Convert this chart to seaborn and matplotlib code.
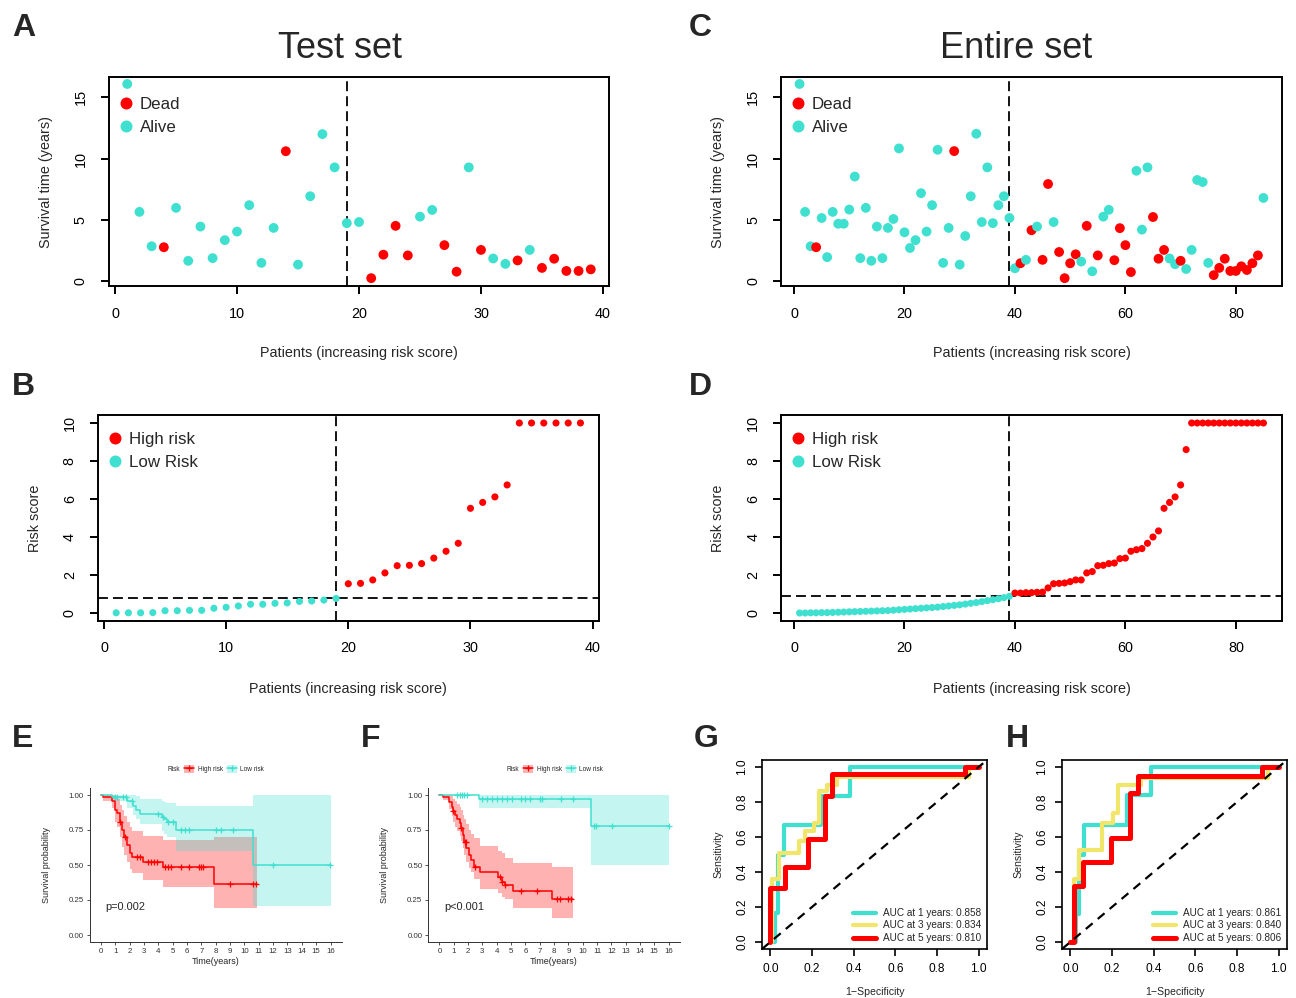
import numpy as np
import pandas as pd
import matplotlib
matplotlib.use("Agg")
import matplotlib.pyplot as plt
from matplotlib.lines import Line2D
from matplotlib.patches import Patch
import seaborn as sns

sns.set_theme(style="ticks")
plt.rcParams['font.family'] = ['Liberation Sans', 'DejaVu Sans']

RED = "#FF0000"
TEAL = "#40E0D0"
YELLOW = "#F2E66A"

# ---------------- data: test set ----------------
test_time = [16.1, 5.64, 2.83, 2.75, 5.97, 1.64, 4.44, 1.86, 3.33, 4.03,
             6.19, 1.47, 4.33, 10.6, 1.33, 6.92, 12.0, 9.28, 4.72, 4.81,
             0.22, 2.14, 4.5, 2.08, 5.25, 5.8, 2.92, 0.75, 9.28, 2.53,
             1.83, 1.39, 1.67, 2.53, 1.06, 1.81, 0.81, 0.81, 0.94]
test_dead = [0, 0, 0, 1, 0, 0, 0, 0, 0, 0,
             0, 0, 0, 1, 0, 0, 0, 0, 0, 0,
             1, 1, 1, 1, 0, 0, 1, 1, 0, 1,
             0, 0, 1, 0, 1, 1, 1, 1, 1]
test_risk = [0.01, 0.01, 0.01, 0.02, 0.12, 0.12, 0.14, 0.14, 0.25, 0.30,
             0.37, 0.46, 0.46, 0.51, 0.53, 0.61, 0.63, 0.68, 0.77,
             1.54, 1.56, 1.74, 2.11, 2.49, 2.51, 2.60, 2.89, 3.25, 3.67,
             5.51, 5.82, 6.11, 6.74, 10, 10, 10, 10, 10, 10]
test_nlow = 19
test_cut = 0.77

# ---------------- data: entire set ----------------
entire_time = [16.1, 5.64, 2.83, 2.75, 5.14, 1.94, 5.64, 4.67, 4.67, 5.83,
               8.53, 1.86, 5.97, 1.64, 4.44, 1.86, 4.33, 5.06, 10.83, 3.97,
               2.69, 3.33, 7.17, 4.03, 6.19, 10.72, 1.47, 4.33, 10.61, 1.33,
               3.67, 6.92, 12.03, 4.81, 9.28, 4.72, 6.19, 6.92, 5.14, 1.03,
               1.44, 1.72, 4.14, 4.44, 1.72, 7.92, 4.81, 2.36, 0.22, 1.44,
               2.17, 1.58, 4.5, 0.78, 2.08, 5.25, 5.81, 1.69, 4.31, 2.92,
               0.72, 9.0, 4.19, 9.28, 5.22, 1.81, 2.53, 1.83, 1.36, 1.64,
               0.97, 2.53, 8.25, 8.08, 1.47, 0.47, 1.06, 1.81, 0.81, 0.81,
               1.19, 0.89, 1.44, 2.08, 6.78]
entire_dead = [0, 0, 0, 1, 0, 0, 0, 0, 0, 0,
               0, 0, 0, 0, 0, 0, 0, 0, 0, 0,
               0, 0, 0, 0, 0, 0, 0, 0, 1, 0,
               0, 0, 0, 0, 0, 0, 0, 0, 0, 0,
               1, 0, 1, 0, 1, 1, 0, 1, 1, 1,
               1, 0, 1, 0, 1, 0, 0, 1, 1, 1,
               1, 0, 0, 0, 1, 1, 1, 0, 0, 1,
               0, 0, 0, 0, 0, 1, 1, 1, 1, 1,
               1, 1, 1, 1, 0]
entire_risk = [0.00, 0.00, 0.01, 0.01, 0.02, 0.02, 0.03, 0.04, 0.05, 0.06,
               0.07, 0.08, 0.09, 0.10, 0.11, 0.12, 0.13, 0.15, 0.17, 0.19,
               0.21, 0.23, 0.25, 0.27, 0.29, 0.31, 0.34, 0.37, 0.40, 0.43,
               0.47, 0.51, 0.55, 0.60, 0.65, 0.70, 0.75, 0.81, 0.88,
               1.05, 1.05, 1.07, 1.07, 1.09, 1.10, 1.32, 1.54, 1.56, 1.58,
               1.65, 1.74, 1.74, 2.11, 2.18, 2.49, 2.51, 2.60, 2.63, 2.86,
               2.89, 3.25, 3.33, 3.39, 3.67, 4.00, 4.32, 5.51, 5.82, 6.11,
               6.74, 8.60, 10, 10, 10, 10, 10, 10, 10, 10, 10, 10, 10, 10, 10, 10]
entire_nlow = 39
entire_cut = 0.88

# ---------------- data: Kaplan-Meier (E test, F entire) ----------------
e_hi_t = [0, 0.15, 0.8, 0.95, 1.1, 1.3, 1.45, 1.6, 1.8, 2.0, 2.15, 2.95, 4.35, 7.85, 10.85]
e_hi_s = [1.0, 0.985, 0.955, 0.895, 0.87, 0.81, 0.75, 0.70, 0.645, 0.585, 0.56, 0.525, 0.485, 0.365, 0.365]
e_hi_up = [1.0, 1.0, 1.0, 0.99, 0.97, 0.93, 0.89, 0.85, 0.81, 0.77, 0.74, 0.71, 0.68, 0.70, 0.70]
e_hi_lo = [1.0, 0.955, 0.905, 0.81, 0.77, 0.70, 0.63, 0.575, 0.52, 0.47, 0.445, 0.39, 0.345, 0.19, 0.19]
e_hi_cens = [1.3, 1.7, 2.5, 2.7, 3.3, 3.5, 3.7, 3.9, 4.45, 4.7, 4.85, 5.6, 6.15, 6.8, 6.95, 7.1, 9.0, 10.6, 10.8]

e_lo_t = [0, 0.75, 1.8, 2.2, 2.45, 2.75, 4.25, 4.4, 4.6, 5.2, 10.6, 16.0]
e_lo_s = [1.0, 0.985, 0.955, 0.92, 0.895, 0.865, 0.845, 0.83, 0.81, 0.75, 0.50, 0.50]
e_lo_up = [1.0, 1.0, 1.0, 1.0, 0.99, 0.97, 0.96, 0.95, 0.94, 0.92, 1.0, 1.0]
e_lo_lo = [1.0, 0.955, 0.905, 0.86, 0.83, 0.79, 0.74, 0.72, 0.70, 0.60, 0.21, 0.21]
e_lo_cens = [0.98, 1.1, 1.55, 1.75, 2.15, 4.0, 4.35, 4.7, 5.05, 5.6, 5.85, 6.15, 8.05, 8.35, 9.2, 12.0, 15.95]

f_hi_t = [0, 0.23, 0.7, 0.86, 0.98, 1.1, 1.2, 1.4, 1.5, 1.63, 1.72, 1.86, 2.03, 2.19, 2.38, 2.84,
          4.12, 4.35, 4.59, 5.17, 7.85, 9.3]
f_hi_s = [1.0, 0.988, 0.952, 0.917, 0.888, 0.857, 0.826, 0.80, 0.762, 0.714, 0.667, 0.62, 0.571, 0.536,
          0.488, 0.452, 0.417, 0.381, 0.357, 0.317, 0.255, 0.255]
f_hi_up = [1.0, 1.0, 1.0, 0.99, 0.975, 0.955, 0.935, 0.915, 0.89, 0.86, 0.83, 0.79, 0.75, 0.72,
           0.69, 0.636, 0.60, 0.583, 0.548, 0.517, 0.488, 0.488]
f_hi_lo = [1.0, 0.965, 0.90, 0.85, 0.81, 0.77, 0.74, 0.71, 0.67, 0.62, 0.57, 0.52, 0.48, 0.45,
           0.40, 0.33, 0.30, 0.27, 0.255, 0.19, 0.125, 0.125]
f_hi_cens = [0.98, 1.5, 1.75, 1.85, 2.5, 4.2, 4.4, 4.6, 5.7, 6.8, 8.2, 8.4, 9.0, 9.2]

f_lo_t = [0, 2.75, 10.6, 16.0]
f_lo_s = [1.0, 0.97, 0.78, 0.78]
f_lo_up = [1.0, 1.0, 1.0, 1.0]
f_lo_lo = [1.0, 0.91, 0.50, 0.50]
f_lo_cens = [1.2, 1.4, 1.56, 1.72, 1.91, 2.96, 3.31, 3.66, 4.0, 4.35, 4.7, 5.05, 5.7, 5.94,
             6.29, 7.0, 7.16, 8.48, 9.3, 10.76, 10.9, 12.04, 16.0]

# ---------------- data: time-dependent ROC (G test, H entire) ----------------
g_fpr_1 = [0, 0.024, 0.037, 0.066, 0.245, 0.382, 1.0]
g_tpr_1 = [0, 0.167, 0.5, 0.667, 0.833, 1.0, 1.0]
g_fpr_3 = [0, 0.008, 0.04, 0.136, 0.165, 0.21, 0.233, 0.274, 0.318, 0.955, 1.0]
g_tpr_3 = [0, 0.358, 0.507, 0.58, 0.635, 0.68, 0.863, 0.9, 0.945, 1.0, 1.0]
g_fpr_5 = [0, 0.0, 0.072, 0.181, 0.262, 0.294, 0.933, 1.0]
g_tpr_5 = [0, 0.307, 0.427, 0.588, 0.835, 0.96, 1.0, 1.0]
g_auc = ["0.858", "0.834", "0.810"]

h_fpr_1 = [0, 0.029, 0.04, 0.066, 0.27, 0.387, 1.0]
h_tpr_1 = [0, 0.16, 0.5, 0.667, 0.84, 1.0, 1.0]
h_fpr_3 = [0, 0.018, 0.04, 0.15, 0.205, 0.23, 0.34, 0.95, 1.0]
h_tpr_3 = [0, 0.36, 0.526, 0.68, 0.737, 0.897, 0.94, 1.0, 1.0]
h_fpr_5 = [0, 0.018, 0.061, 0.194, 0.286, 0.326, 0.92, 1.0]
h_tpr_5 = [0, 0.32, 0.46, 0.595, 0.85, 0.95, 1.0, 1.0]
h_auc = ["0.861", "0.840", "0.806"]

# ---------------- figure ----------------
W, H = 1296, 998
fig = plt.figure(figsize=(W / 100, H / 100), dpi=100)


def add_box(left, top, right, bottom):
    return fig.add_axes([left / W, 1 - bottom / H, (right - left) / W, (bottom - top) / H])


def r_style(ax):
    ax.grid(False)
    for sp in ax.spines.values():
        sp.set_visible(True)
        sp.set_color("black")
        sp.set_linewidth(1.4)
    ax.tick_params(direction="out", length=6, width=1.4, color="black",
                   labelsize=10.4, pad=9, labelcolor="black")
    ax.tick_params(axis="y", labelrotation=90)
    for lbl in ax.get_yticklabels():
        lbl.set_va("center")


def dot_legend(ax, labels, colors, anchor):
    handles = [Line2D([], [], ls="", marker="o", ms=7.6, mfc=c, mec=c) for c in colors]
    ax.legend(handles, labels, loc="upper left", bbox_to_anchor=anchor, frameon=False,
              fontsize=12.2, handlelength=0.6, handletextpad=0.5, labelspacing=0.5,
              borderpad=0, borderaxespad=0)


def survival_panel(ax, times, dead, nlow, xlim, xticks):
    df = pd.DataFrame({"patient": np.arange(1, len(times) + 1), "time": times,
                       "status": ["Dead" if d else "Alive" for d in dead]})
    sns.scatterplot(data=df, x="patient", y="time", hue="status",
                    palette={"Dead": RED, "Alive": TEAL}, s=50, linewidth=0,
                    legend=False, ax=ax, zorder=3)
    ax.axvline(nlow, color="black", ls=(0, (5.5, 2.8)), lw=1.3)
    ax.set_xlim(*xlim)
    ax.set_ylim(-0.42, 16.67)
    ax.set_xticks(xticks)
    ax.set_yticks([0, 5, 10, 15])
    ax.set_xlabel("Patients (increasing risk score)", fontsize=10.4, labelpad=18)
    ax.set_ylabel("Survival time (years)", fontsize=10.4, labelpad=15)
    r_style(ax)
    dot_legend(ax, ["Dead", "Alive"], [RED, TEAL], (0.0246, 0.905))


def risk_panel(ax, risk, nlow, cut, xlim, xticks):
    n = len(risk)
    df = pd.DataFrame({"patient": np.arange(1, n + 1), "risk": risk,
                       "group": ["Low"] * nlow + ["High"] * (n - nlow)})
    sns.scatterplot(data=df, x="patient", y="risk", hue="group",
                    palette={"High": RED, "Low": TEAL}, s=26, linewidth=0,
                    legend=False, ax=ax, zorder=3)
    ax.axvline(nlow, color="black", ls=(0, (5.5, 2.8)), lw=1.3)
    ax.axhline(cut, color="black", ls=(0, (5.5, 2.8)), lw=1.3)
    ax.set_xlim(*xlim)
    ax.set_ylim(-0.4, 10.4)
    ax.set_xticks(xticks)
    ax.set_yticks([0, 2, 4, 6, 8, 10])
    ax.set_xlabel("Patients (increasing risk score)", fontsize=10.4, labelpad=19)
    ax.set_ylabel("Risk score", fontsize=10.4, labelpad=15)
    r_style(ax)
    dot_legend(ax, ["High risk", "Low Risk"], [RED, TEAL], (0.0247, 0.92))


def km_panel(ax, groups, ptext, legend_cx):
    for t, s, lo, up, cens, color in groups:
        ax.fill_between(t, lo, up, step="post", color=color, alpha=0.3, lw=0)
        sns.lineplot(x=t, y=s, drawstyle="steps-post", estimator=None, color=color,
                     lw=1.1, ax=ax)
        idx = np.searchsorted(t, cens, side="right") - 1
        ax.plot(cens, np.array(s)[idx], ls="", marker="+", ms=4, mew=0.9, color=color)
    ax.set_xlim(-0.8, 16.8)
    ax.set_ylim(-0.05, 1.05)
    ax.set_xticks(range(0, 17))
    ax.set_yticks([0, 0.25, 0.5, 0.75, 1.0])
    ax.set_yticklabels(["0.00", "0.25", "0.50", "0.75", "1.00"])
    ax.grid(False)
    sns.despine(ax=ax)
    for side in ["left", "bottom"]:
        ax.spines[side].set_color("#333333")
        ax.spines[side].set_linewidth(0.7)
    ax.tick_params(direction="out", length=2.5, width=0.6, color="#333333",
                   labelsize=5.7, pad=1.5, labelcolor="#333333")
    ax.set_xlabel("Time(years)", fontsize=6.5, labelpad=1.5)
    ax.set_ylabel("Survival probability", fontsize=6.5, labelpad=13)
    ax.text(0.33, 0.2, ptext, fontsize=7.9, ha="left", va="center")
    handles = [Line2D([], [], ls="", marker="")]
    for color in [RED, TEAL]:
        handles.append((Patch(fc=color, alpha=0.3, lw=0),
                        Line2D([], [], color=color, lw=1.1, marker="+", ms=4, mew=0.9)))
    fig.legend(handles, ["Risk", "High risk", "Low risk"], ncol=3, loc="center",
               bbox_to_anchor=(legend_cx / W, 1 - 769 / H), frameon=False, fontsize=4.7,
               handlelength=1.6, handleheight=1.6, handletextpad=0.5, columnspacing=0.6)


def roc_panel(ax, curves, aucs):
    colors = [TEAL, YELLOW, RED]
    widths = [3.0, 3.0, 3.6]
    for (fpr, tpr), color, lw in zip(curves, colors, widths):
        sns.lineplot(x=fpr, y=tpr, drawstyle="steps-post", estimator=None, sort=False,
                     color=color, lw=lw, ax=ax)
    ax.axline((0, 0), (1, 1), color="black", ls=(0, (4, 3)), lw=1.6, zorder=5)
    ax.set_xlim(-0.04, 1.04)
    ax.set_ylim(-0.04, 1.04)
    ticks = [0, 0.2, 0.4, 0.6, 0.8, 1.0]
    ax.set_xticks(ticks)
    ax.set_yticks(ticks)
    ax.set_xticklabels([f"{v:.1f}" for v in ticks])
    ax.set_yticklabels([f"{v:.1f}" for v in ticks])
    r_style(ax)
    for sp in ax.spines.values():
        sp.set_linewidth(1.2)
    ax.tick_params(length=5, width=1.2, labelsize=8.6, pad=5)
    ax.set_xlabel("1\u2212Specificity", fontsize=7.6, labelpad=9)
    ax.set_ylabel("Sensitivity", fontsize=7.6, labelpad=9)
    handles = [Line2D([], [], color=c, lw=lw) for c, lw in zip(colors, widths)]
    labels = [f"AUC at {y} years: {a}" for y, a in zip([1, 3, 5], aucs)]
    ax.legend(handles, labels, loc="lower right", frameon=False, fontsize=7.2,
              handlelength=2.3, handletextpad=0.7, labelspacing=0.25,
              borderpad=0.2, borderaxespad=0.4)


axA = add_box(108.7, 77, 609.3, 286)
survival_panel(axA, test_time, test_dead, test_nlow, (-0.52, 40.52), [0, 10, 20, 30, 40])
axC = add_box(781, 77, 1282, 286)
survival_panel(axC, entire_time, entire_dead, entire_nlow, (-2.36, 88.36), [0, 20, 40, 60, 80])

axB = add_box(97.6, 415.4, 599, 620.6)
risk_panel(axB, test_risk, test_nlow, test_cut, (-0.52, 40.52), [0, 10, 20, 30, 40])
axD = add_box(781, 415.4, 1282, 620.6)
risk_panel(axD, entire_risk, entire_nlow, entire_cut, (-2.36, 88.36), [0, 20, 40, 60, 80])

axE = add_box(89.5, 788, 342, 942)
km_panel(axE, [(e_hi_t, e_hi_s, e_hi_lo, e_hi_up, e_hi_cens, RED),
               (e_lo_t, e_lo_s, e_lo_lo, e_lo_up, e_lo_cens, TEAL)], "p=0.002", 209)
axF = add_box(428, 788, 680, 942)
km_panel(axF, [(f_hi_t, f_hi_s, f_hi_lo, f_hi_up, f_hi_cens, RED),
               (f_lo_t, f_lo_s, f_lo_lo, f_lo_up, f_lo_cens, TEAL)], "p<0.001", 548)

axG = add_box(762, 760, 987, 949)
roc_panel(axG, [(g_fpr_1, g_tpr_1), (g_fpr_3, g_tpr_3), (g_fpr_5, g_tpr_5)], g_auc)
axH = add_box(1062, 760, 1287, 949)
roc_panel(axH, [(h_fpr_1, h_tpr_1), (h_fpr_3, h_tpr_3), (h_fpr_5, h_tpr_5)], h_auc)

# titles and panel letters
fig.text(340 / W, 1 - 48 / H, "Test set", ha="center", va="center", fontsize=26)
fig.text(1016.5 / W, 1 - 48 / H, "Entire set", ha="center", va="center", fontsize=26)
for letter, x, y in [("A", 12, 13), ("C", 689, 13), ("B", 12, 372), ("D", 689, 372),
                     ("E", 12, 724), ("F", 361, 724), ("G", 694, 724), ("H", 1006, 724)]:
    fig.text(x / W, 1 - y / H, letter, ha="left", va="top", fontsize=23, fontweight="bold")

fig.savefig("out.png", dpi=100)
